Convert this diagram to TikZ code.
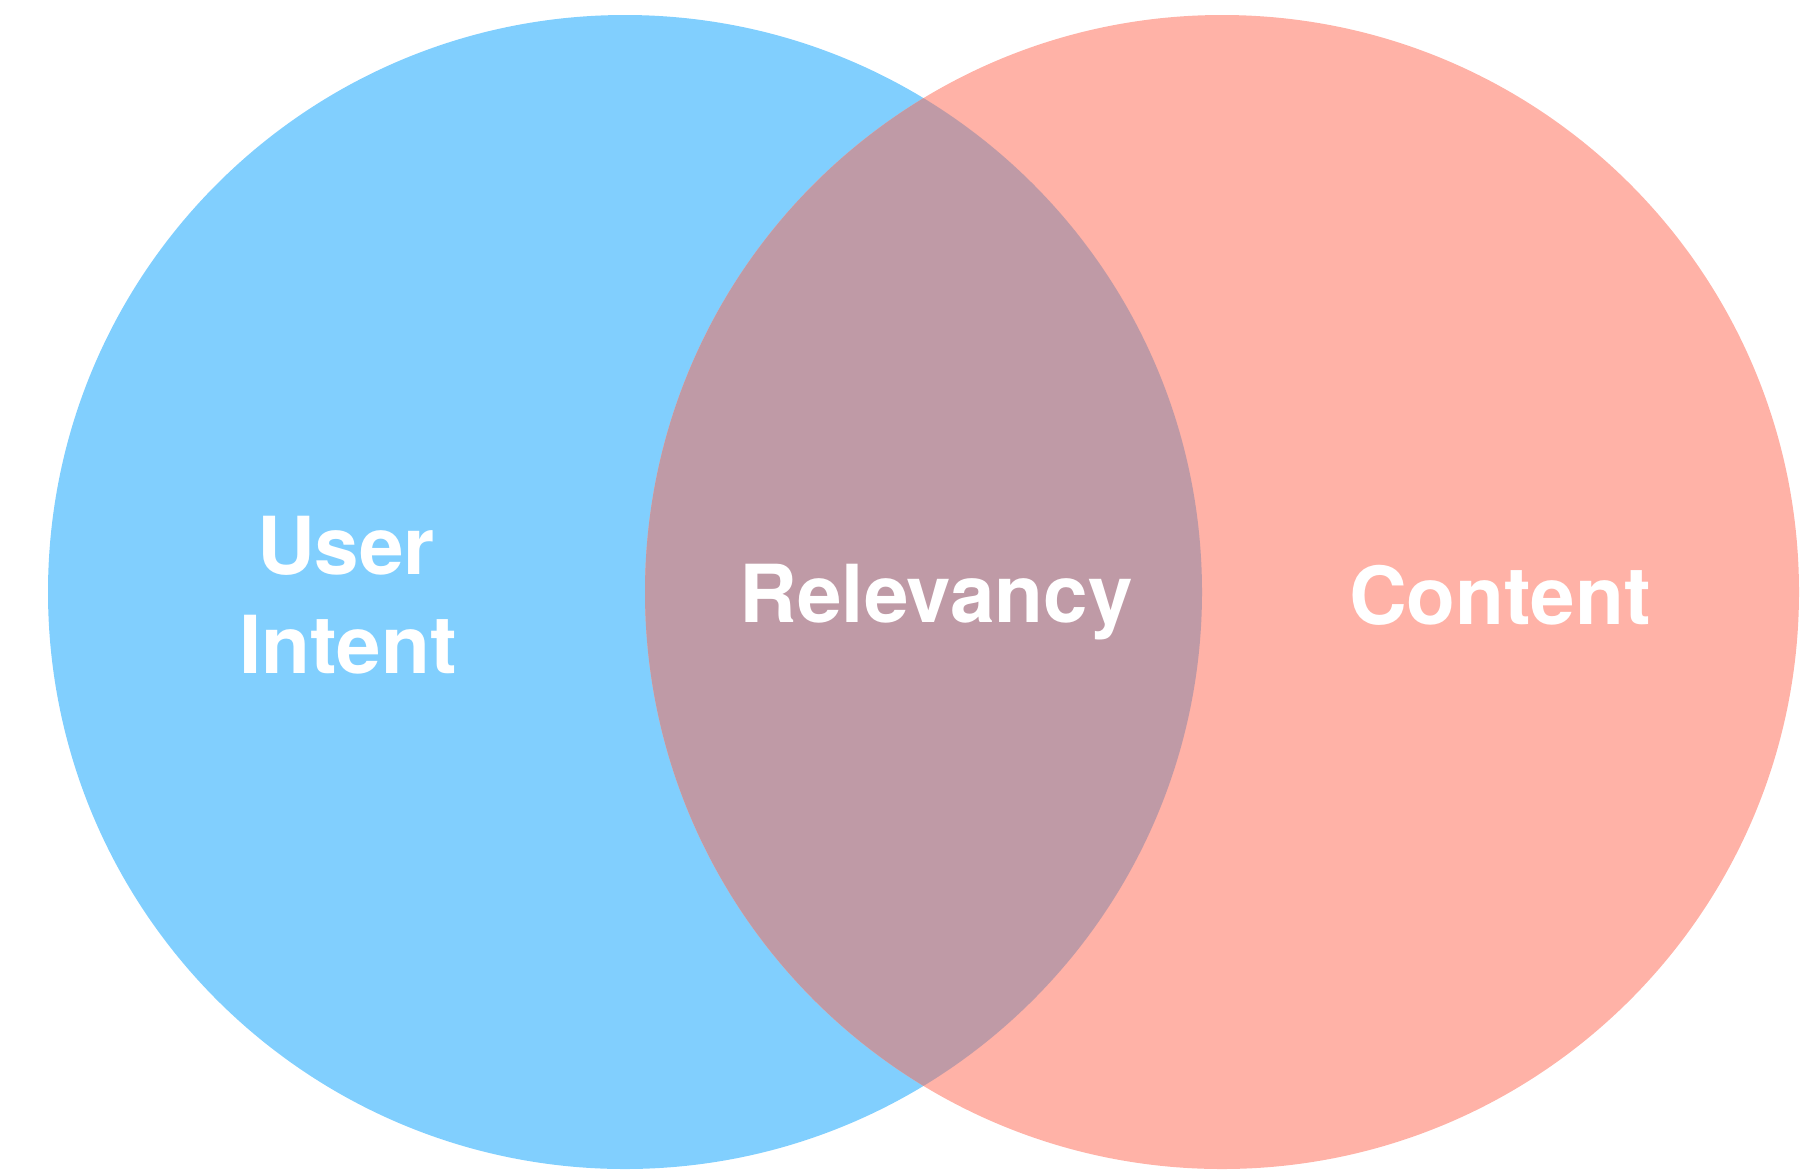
\documentclass[tikz,border=0pt]{standalone}
\usepackage{fontspec}
\setmainfont{TeX Gyre Heros}
\definecolor{blueC}{RGB}{129,207,254}
\definecolor{pinkC}{RGB}{255,178,167}
\definecolor{mixC}{RGB}{191,154,166}
\tikzset{
  lbl/.style={text=white, font=\bfseries\fontsize{80}{99}\selectfont, anchor=base, inner sep=0pt, align=center},
}
\begin{document}
\begin{tikzpicture}[x=1pt,y=-1pt]
\useasboundingbox (0,0) rectangle (1814,1171);
\coordinate (cl) at (625,592);
\coordinate (cr) at (1222,592);
\fill[blueC] (cl) circle[radius=577];
\fill[pinkC] (cr) circle[radius=577];
\begin{scope}
  \clip (cl) circle[radius=577];
  \fill[mixC] (cr) circle[radius=577];
\end{scope}
\node[lbl] (user) at (346,574) {User};
\node[lbl] (intent) at (348,673) {Intent};
\node[lbl] (rel) at (936,622) {Relevancy};
\node[lbl] (content) at (1500,624) {Content};
\end{tikzpicture}
\end{document}
